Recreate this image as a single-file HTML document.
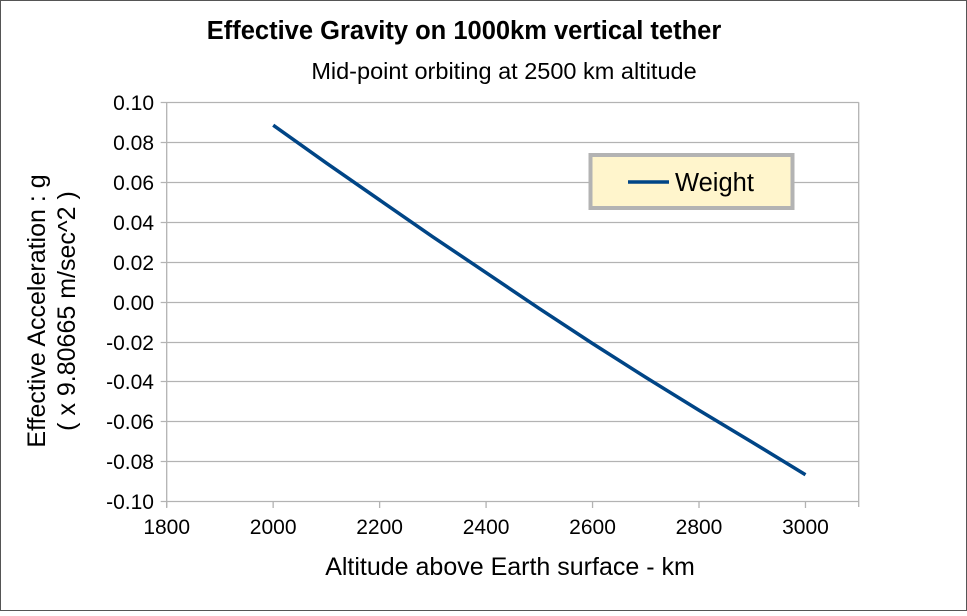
<!DOCTYPE html>
<html><head><meta charset="utf-8"><style>
html,body{margin:0;padding:0;background:#fff}
svg text{font-family:"Liberation Sans",sans-serif;fill:#000}
</style></head><body>
<svg width="967" height="611" viewBox="0 0 967 611">
<rect x="0.5" y="0.5" width="966" height="610" fill="#fff" stroke="#555"/>
<text x="464" y="39" text-anchor="middle" font-size="25.5" font-weight="bold">Effective Gravity on 1000km vertical tether</text>
<text x="504" y="79" text-anchor="middle" font-size="23.5">Mid-point orbiting at 2500 km altitude</text>
<g id="grid"></g>
<g id="axes"></g>
<path id="line" fill="none" stroke="#004586" stroke-width="3.5" stroke-linejoin="round"/>
<g>
<rect x="590.5" y="155" width="202" height="53" fill="#fff5cc" stroke="#b3b3b3" stroke-width="4"/>
<line x1="628" y1="182" x2="669" y2="182" stroke="#004586" stroke-width="3.5"/>
<text x="675" y="191" font-size="25.5">Weight</text>
</g>
<text x="510" y="575" text-anchor="middle" font-size="25">Altitude above Earth surface - km</text>
<g transform="translate(45,311) rotate(-90)">
<text x="0" y="0" text-anchor="middle" font-size="25">Effective Acceleration : g</text>
<text x="0" y="30" text-anchor="middle" font-size="25">( x 9.80665 m/sec^2 )</text>
</g>
</svg>
<script>
const xs=[2000,2100,2200,2300,2400,2500,2600,2700,2800,2900,3000];
const weight=[0.0885,0.0695,0.0510,0.0325,0.0145,-0.0035,-0.0210,-0.0380,-0.0545,-0.0705,-0.0868];
const xTicks=[1800,2000,2200,2400,2600,2800,3000];
const yTicks=[0.10,0.08,0.06,0.04,0.02,0.00,-0.02,-0.04,-0.06,-0.08,-0.10];
const X0=166.7,X1=858.7,Y0=102.3,Y1=501;
const xS=v=>X0+(v-1800)/(3100-1800)*(X1-X0);
const yS=v=>Y0+(0.10-v)/0.20*(Y1-Y0);
const NS='http://www.w3.org/2000/svg';
const grid=document.getElementById('grid'),axes=document.getElementById('axes');
function mk(t,a,p){const e=document.createElementNS(NS,t);for(const k in a)e.setAttribute(k,a[k]);p.appendChild(e);return e;}
yTicks.forEach(v=>{const y=Math.round(yS(v))+0.5;
const g=mk('line',{x1:X0-6,x2:X1,y1:y,y2:y,stroke:'#b3b3b3','stroke-width':1.3},grid);


const t=mk('text',{x:154,y:y+7.5,'text-anchor':'end','font-size':21},axes);
t.textContent=v.toFixed(2);

});
[X0,X1].forEach(x=>{const l=mk('line',{x1:x,x2:x,y1:Y0,y2:Y1+6,stroke:'#b3b3b3','stroke-width':1.3},grid);

});
xTicks.forEach(v=>{const x=xS(v);
const l=mk('line',{x1:x,x2:x,y1:Y1,y2:Y1+7,stroke:'#b3b3b3','stroke-width':1.3},grid);


const t=mk('text',{x:x,y:534,'text-anchor':'middle','font-size':21},axes);
t.textContent=v;

});
document.getElementById('line').setAttribute('d',xs.map((v,i)=>(i?'L':'M')+xS(v).toFixed(1)+','+yS(weight[i]).toFixed(1)).join(''));
</script>
</body></html>
